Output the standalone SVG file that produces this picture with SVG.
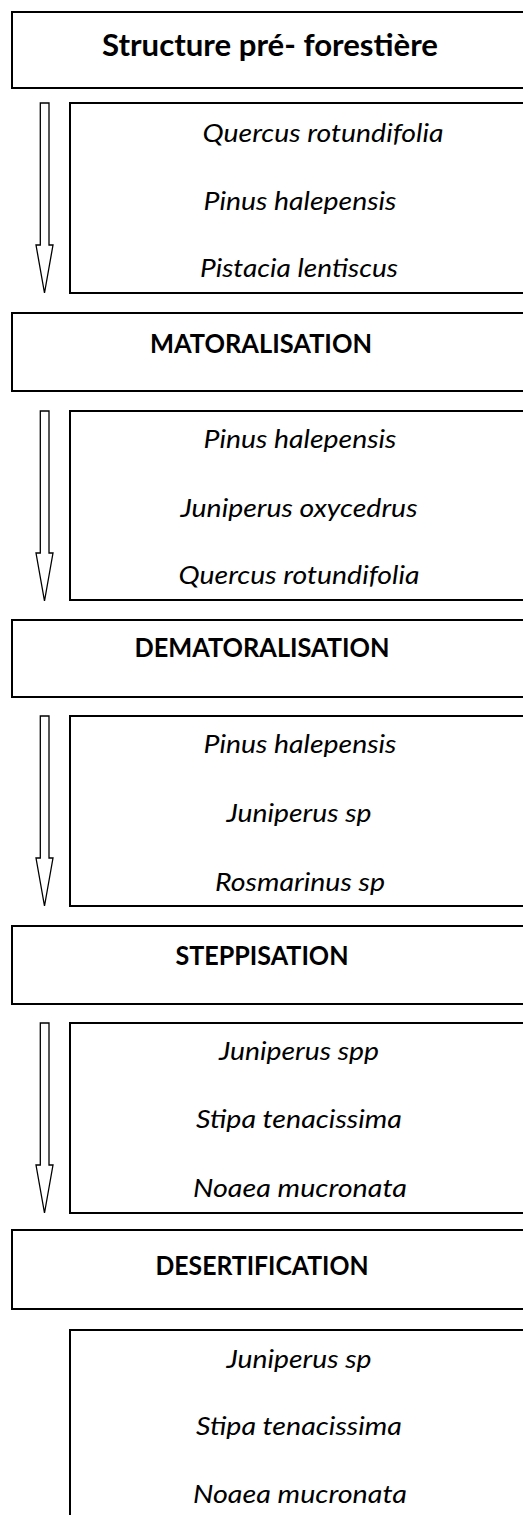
<svg xmlns="http://www.w3.org/2000/svg" width="523" height="1515" viewBox="0 0 523 1515">
<style>
.bg{fill:#fff}
.box{fill:#fff;stroke:#000;stroke-width:2}
.arrow{fill:#fff;stroke:#000;stroke-width:1.3;stroke-linejoin:miter}
.hdr{font-family:Lato,"Open Sans","Liberation Sans",sans-serif;font-weight:bold;font-size:26px;text-anchor:middle;fill:#000}
.ttl{font-size:31px}
.sp{font-family:Lato,"Open Sans","Liberation Sans",sans-serif;font-style:italic;font-size:26px;text-anchor:middle;fill:#000}
</style>
<defs>
<path id="arr" class="arrow" d="M40.3,0 H49 V142 H53 L44.5,190 L36,142 H40.3 Z"/>
</defs>
<rect class="bg" x="0" y="0" width="523" height="1515"/>

<g id="connectors">
<use href="#arr" y="103"/>
<use href="#arr" y="411"/>
<use href="#arr" y="716"/>
<use href="#arr" y="1023"/>
</g>

<g id="structure-pre-forestiere">
<rect class="box" x="12" y="12" width="540" height="76"/>
<text class="hdr ttl" x="270" y="56" textLength="336" lengthAdjust="spacingAndGlyphs">Structure pré- forestière</text>
</g>
<g id="species-1">
<rect class="box" x="70" y="103" width="500" height="190"/>
<text class="sp" x="323" y="142" textLength="241" lengthAdjust="spacingAndGlyphs">Quercus rotundifolia</text>
<text class="sp" x="300" y="210" textLength="193" lengthAdjust="spacingAndGlyphs">Pinus halepensis</text>
<text class="sp" x="299" y="277" textLength="198" lengthAdjust="spacingAndGlyphs">Pistacia lentiscus</text>
</g>

<g id="matoralisation">
<rect class="box" x="12" y="313" width="540" height="78"/>
<text class="hdr" x="261" y="353" textLength="222" lengthAdjust="spacingAndGlyphs">MATORALISATION</text>
</g>
<g id="species-2">
<rect class="box" x="70" y="411" width="500" height="189"/>
<text class="sp" x="300" y="448" textLength="193" lengthAdjust="spacingAndGlyphs">Pinus halepensis</text>
<text class="sp" x="299" y="517" textLength="237" lengthAdjust="spacingAndGlyphs">Juniperus oxycedrus</text>
<text class="sp" x="299" y="584" textLength="241" lengthAdjust="spacingAndGlyphs">Quercus rotundifolia</text>
</g>

<g id="dematoralisation">
<rect class="box" x="12" y="620" width="540" height="77"/>
<text class="hdr" x="262" y="657" textLength="255" lengthAdjust="spacingAndGlyphs">DEMATORALISATION</text>
</g>
<g id="species-3">
<rect class="box" x="70" y="716" width="500" height="190"/>
<text class="sp" x="300" y="753" textLength="193" lengthAdjust="spacingAndGlyphs">Pinus halepensis</text>
<text class="sp" x="299" y="822" textLength="145" lengthAdjust="spacingAndGlyphs">Juniperus sp</text>
<text class="sp" x="300" y="891" textLength="170" lengthAdjust="spacingAndGlyphs">Rosmarinus sp</text>
</g>

<g id="steppisation">
<rect class="box" x="12" y="926" width="540" height="78"/>
<text class="hdr" x="262" y="965" textLength="173" lengthAdjust="spacingAndGlyphs">STEPPISATION</text>
</g>
<g id="species-4">
<rect class="box" x="70" y="1023" width="500" height="190"/>
<text class="sp" x="299" y="1060" textLength="160" lengthAdjust="spacingAndGlyphs">Juniperus spp</text>
<text class="sp" x="299" y="1128" textLength="206" lengthAdjust="spacingAndGlyphs">Stipa tenacissima</text>
<text class="sp" x="300" y="1197" textLength="214" lengthAdjust="spacingAndGlyphs">Noaea mucronata</text>
</g>

<g id="desertification">
<rect class="box" x="12" y="1230" width="540" height="79"/>
<text class="hdr" x="262" y="1275" textLength="213" lengthAdjust="spacingAndGlyphs">DESERTIFICATION</text>
</g>
<g id="species-5">
<rect class="box" x="70" y="1330" width="500" height="220"/>
<text class="sp" x="299" y="1368" textLength="145" lengthAdjust="spacingAndGlyphs">Juniperus sp</text>
<text class="sp" x="299" y="1435" textLength="206" lengthAdjust="spacingAndGlyphs">Stipa tenacissima</text>
<text class="sp" x="300" y="1503" textLength="214" lengthAdjust="spacingAndGlyphs">Noaea mucronata</text>
</g>
</svg>
